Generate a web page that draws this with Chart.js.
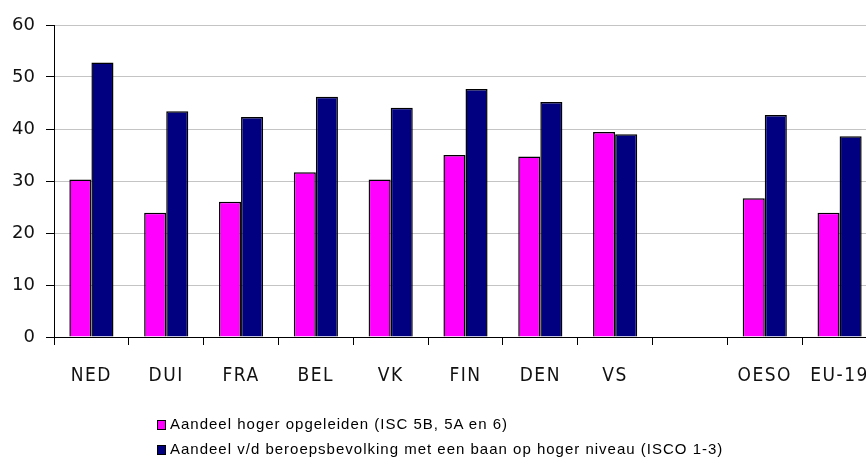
<!DOCTYPE html>
<html>
<head>
<meta charset="utf-8">
<script src="https://cdn.jsdelivr.net/npm/chart.js@4"></script>
<style>
  body { margin: 0; overflow: hidden; background: #fff; }
  #wrap { position: relative; width: 880px; height: 459px; }
  #legend { position: absolute; left: 157px; top: 414px; font: 15px "Liberation Sans", Arial, sans-serif; letter-spacing: 1px; color: #000; }
  #legend .row { height: 25px; line-height: 20px; white-space: nowrap; }
  #legend .box { display: inline-block; width: 7px; height: 8px; border: 1px solid #000; margin-right: 4px; vertical-align: -1px; }
</style>
</head>
<body>
<div id="wrap">
  <canvas id="chart" width="880" height="459"></canvas>
  <div id="legend"></div>
</div>
<script>
var categories = ['NED', 'DUI', 'FRA', 'BEL', 'VK', 'FIN', 'DEN', 'VS', '', 'OESO', 'EU-19'];
var hogerOpgeleiden = [30.3, 23.9, 26.0, 31.7, 30.3, 35.0, 34.7, 39.4, null, 26.7, 23.9];
var baanHogerNiveau = [52.8, 43.4, 42.3, 46.2, 44.1, 47.7, 45.2, 39.0, null, 42.7, 38.6];
var seriesNames = [
  'Aandeel hoger opgeleiden (ISC 5B, 5A en 6)',
  'Aandeel v/d beroepsbevolking met een baan op hoger niveau  (ISCO 1-3)'
];
var yMin = 0, yMax = 60, yStep = 10;

// spaced-out category labels: wrap the x scale's label drawing
var spacedLabels = {
  id: 'spacedLabels',
  afterLayout: function(chart) {
    var sc = chart.scales.x;
    if (sc._spaced) return;
    var orig = sc.drawLabels.bind(sc);
    sc.drawLabels = function(area) {
      chart.ctx.save();
      chart.ctx.letterSpacing = '1.5px';
      orig(area);
      chart.ctx.restore();
    };
    sc._spaced = true;
  }
};

var chart = new Chart(document.getElementById('chart'), {
  type: 'bar',
  data: {
    labels: categories,
    datasets: [
      { label: seriesNames[0], data: hogerOpgeleiden, backgroundColor: '#ff00ff', borderColor: '#000', borderWidth: 1.5 },
      { label: seriesNames[1], data: baanHogerNiveau, backgroundColor: '#000080', borderColor: '#000', borderWidth: 1.5 }
    ]
  },
  options: {
    responsive: false,
    animation: false,
    layout: { padding: { top: 25, right: 3, left: 0, bottom: 0 } },
    datasets: { bar: { categoryPercentage: 0.59, barPercentage: 1.0 } },
    plugins: { legend: { display: false }, tooltip: { enabled: false } },
    scales: {
      x: {
        // last label is allowed to run off the right edge
        afterFit: function(s) { s.height = 122; s.paddingLeft = 0; s.paddingRight = 0; },
        grid: { drawOnChartArea: false, drawTicks: true, tickLength: 8, tickColor: '#000', offset: true },
        border: { color: '#000', width: 1 },
        ticks: { color: '#111', padding: 20, maxRotation: 0, autoSkip: false,
          font: { family: '"DejaVu Sans Condensed", "DejaVu Sans", sans-serif', size: 19 } }
      },
      y: {
        min: yMin, max: yMax,
        afterFit: function(s) { s.width = 54; },
        grid: { color: '#c4c4c4', tickColor: '#000', tickLength: 8 },
        border: { color: '#000', width: 1 },
        ticks: { stepSize: yStep, color: '#111', padding: 11,
          font: { family: '"DejaVu Sans", sans-serif', size: 18 } }
      }
    }
  },
  plugins: [spacedLabels]
});

// legend rows under the chart, one per series
var legendEl = document.getElementById('legend');
chart.data.datasets.forEach(function(ds) {
  var row = document.createElement('div');
  row.className = 'row';
  var box = document.createElement('span');
  box.className = 'box';
  box.style.background = ds.backgroundColor;
  row.appendChild(box);
  row.appendChild(document.createTextNode(ds.label));
  legendEl.appendChild(row);
});
</script>
</body>
</html>
